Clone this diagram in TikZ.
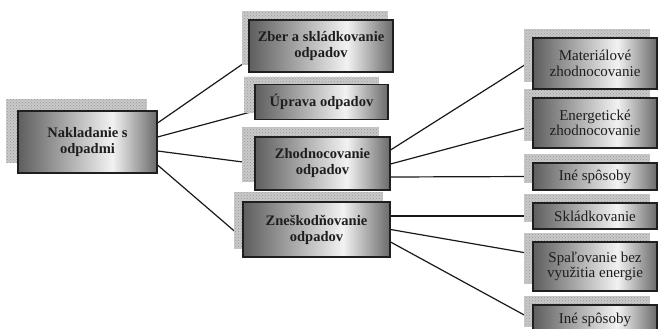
\documentclass[tikz,border=0pt]{standalone}
\usepackage{fontspec}
\setmainfont{Liberation Serif}
\usetikzlibrary{backgrounds,patterns,calc}
\definecolor{mdark}{HTML}{5E5E5E}
\definecolor{mlight}{HTML}{F2F2F2}
\definecolor{mright}{HTML}{6A6A6A}
\definecolor{txt}{HTML}{1E1E1E}
\pgfdeclarehorizontalshading{metal}{100bp}{color(0bp)=(mdark); color(25bp)=(mdark); color(59bp)=(mlight); color(75bp)=(mright); color(100bp)=(mright)}
\newcommand\shad[3]{%
  \fill[gray!42] ([shift={(#2,#3)}]#1.north west) rectangle ([shift={(#2,#3)}]#1.south east);
  \fill[pattern=crosshatch dots, pattern color=gray!80] ([shift={(#2,#3)}]#1.north west) rectangle ([shift={(#2,#3)}]#1.south east);}
\tikzset{
  mbox/.style={draw=black!88, line width=1.1pt, shading=metal, inner sep=0pt, align=center, text=txt},
  boldbox/.style={mbox, font=\fontsize{14.5}{16}\selectfont\bfseries},
  plainbox/.style={mbox, font=\fontsize{15}{15.5}\selectfont, minimum width=124pt},
  conn/.style={draw=black!90, line width=1.2pt}
}
\begin{document}
\begin{tikzpicture}[x=1pt,y=-1pt]
\useasboundingbox (0,0) rectangle (664,329);
% main boxes
\node[boldbox, minimum width=139pt, minimum height=62pt] (nak) at (87.5,142) {Nakladanie s\\odpadmi};
\node[boldbox, minimum width=144pt, minimum height=52pt] (zber) at (321,46) {Zber a skládkovanie\\odpadov};
\node[boldbox, minimum width=133pt, minimum height=35pt] (upr) at (321.5,102) {Úprava odpadov};
\node[boldbox, minimum width=135pt, minimum height=53pt] (zhod) at (322.5,163.5) {Zhodnocovanie\\odpadov};
\node[boldbox, minimum width=147pt, minimum height=55pt] (znes) at (316.5,229.5) {Zneškodňovanie\\odpadov};
% right boxes
\node[plainbox, minimum height=51pt] (mat) at (595,63.5) {Materiálové\\zhodnocovanie};
\node[plainbox, minimum height=50pt] (ener) at (595,123) {Energetické\\zhodnocovanie};
\node[plainbox, minimum height=27pt] (ine1) at (595,176.5) {Iné spôsoby};
\node[plainbox, minimum height=26pt] (skl) at (595,216) {Skládkovanie};
\node[plainbox, minimum height=49pt] (spal) at (595,266.5) {Spaľovanie bez\\využitia energie};
\node[plainbox, minimum height=29pt] (ine2) at (595,319.5) {Iné spôsoby};
\begin{scope}[on background layer]
  % connectors
  \draw[conn] ([yshift=19pt]nak.east) -- ([yshift=-14pt]zber.west);
  \draw[conn] ([yshift=5pt]nak.east) -- ([yshift=-9pt]upr.west);
  \draw[conn] ([yshift=-9pt]nak.east) -- (zhod.west);
  \draw[conn] ([yshift=-23pt]nak.east) -- ([yshift=-8.5pt]znes.west);
  \draw[conn] ([yshift=13.5pt]zhod.east) -- ([yshift=3.5pt]mat.west);
  \draw[conn] ([yshift=-0.5pt]zhod.east) -- ([yshift=-3pt]ener.west);
  \draw[conn] ([yshift=-13.5pt]zhod.east) -- (ine1.west);
  \draw[conn] ([yshift=13.5pt]znes.east) -- (skl.west);
  \draw[conn] (znes.east) -- ([yshift=12.5pt]spal.west);
  \draw[conn] ([yshift=-12.5pt]znes.east) -- (ine2.west);
  % shadows
  \shad{nak}{-11}{-11}
  \shad{zber}{-6}{-8}
  \shad{upr}{-10}{-7}
  \shad{zhod}{-12}{-9}
  \shad{znes}{-8}{-9}
  \shad{mat}{-8}{-8}
  \shad{ener}{-8}{-8}
  \shad{ine1}{-8}{-8}
  \shad{skl}{-8}{-8}
  \shad{spal}{-8}{-8}
  \shad{ine2}{-8}{-8}
\end{scope}
\end{tikzpicture}
\end{document}
